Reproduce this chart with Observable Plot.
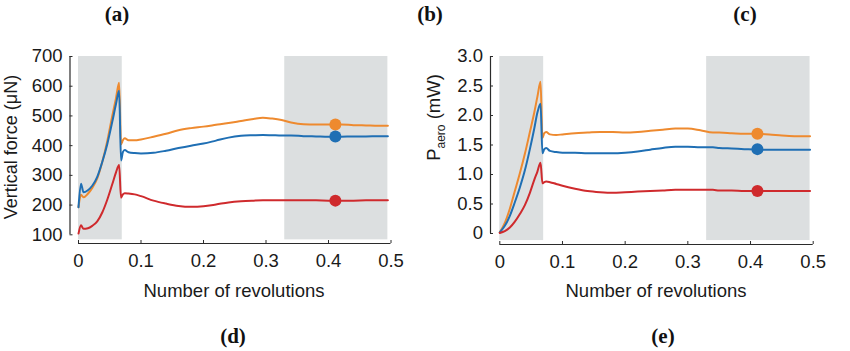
<!DOCTYPE html>
<html>
<head>
<meta charset="utf-8">
<script src="https://cdn.jsdelivr.net/npm/d3@7"></script>
<script src="https://cdn.jsdelivr.net/npm/@observablehq/plot@0.6"></script>
<style>
  html, body { margin: 0; padding: 0; background: #fff; }
  #wrap { position: relative; width: 850px; height: 351px; overflow: hidden; background: #fff; }
  .panel { position: absolute; top: 0; }
  .tag { position: absolute; font-family: "Liberation Serif", "DejaVu Serif", serif; font-weight: bold; font-size: 21px; color: #111; transform: translate(-50%, -50%); white-space: nowrap; }
</style>
</head>
<body>
<div id="wrap"></div>
<script>
// ---------- data ----------
const seriesNames = ["orange", "blue", "red"];
const seriesColors = ["#ee8a2f", "#1f6fb4", "#cf2a2d"];

const revTicks = [0, 0.1, 0.2, 0.3, 0.4, 0.5];
const forceTicks = [100, 200, 300, 400, 500, 600, 700];
const powerTicks = [0, 0.5, 1.0, 1.5, 2.0, 2.5, 3.0];

const shadeStart = [0, 0.33];
const shadeEnd = [0.07, 0.495];

// Panel (d): vertical force (µN)
const forceX = [0, 0.004, 0.008, 0.015, 0.022, 0.03, 0.038, 0.046, 0.054, 0.06, 0.065, 0.068, 0.071, 0.074, 0.08, 0.09, 0.1, 0.12, 0.14, 0.16, 0.18, 0.2, 0.22, 0.24, 0.26, 0.28, 0.295, 0.31, 0.325, 0.34, 0.36, 0.38, 0.4, 0.42, 0.44, 0.46, 0.48, 0.495];
const forceOrange = [193, 235, 226, 238, 258, 290, 345, 415, 500, 560, 612, 405, 418, 425, 418, 418, 421, 430, 440, 452, 459, 464, 470, 476, 483, 490, 494, 491, 486, 478, 472, 471, 471, 471, 469, 468, 467, 467];
const forceBlue = [193, 272, 243, 250, 265, 295, 345, 405, 480, 540, 585, 350, 378, 385, 378, 375, 374, 376, 383, 392, 400, 407, 417, 427, 433, 435, 436, 435, 434, 434, 432, 431, 430, 430, 431, 431, 432, 432];
const forceRed = [104, 132, 120, 122, 130, 145, 175, 218, 270, 310, 335, 225, 236, 240, 239, 236, 230, 215, 205, 197, 194, 196, 202, 209, 213, 215, 216, 216, 216, 216, 216, 216, 215, 215, 215, 216, 216, 216];

// Panel (e): aerodynamic power (mW)
const powerX = [0, 0.008, 0.016, 0.024, 0.032, 0.04, 0.048, 0.055, 0.06, 0.065, 0.068, 0.071, 0.074, 0.08, 0.09, 0.1, 0.12, 0.14, 0.16, 0.18, 0.2, 0.22, 0.24, 0.26, 0.28, 0.3, 0.32, 0.34, 0.35, 0.37, 0.39, 0.41, 0.43, 0.45, 0.47, 0.495];
const powerOrange = [0.02, 0.18, 0.42, 0.72, 1.02, 1.35, 1.72, 2.05, 2.32, 2.57, 1.62, 1.70, 1.72, 1.68, 1.67, 1.68, 1.70, 1.71, 1.72, 1.72, 1.71, 1.72, 1.74, 1.76, 1.78, 1.78, 1.75, 1.71, 1.71, 1.70, 1.69, 1.69, 1.68, 1.66, 1.65, 1.65];
const powerBlue = [0.02, 0.13, 0.3, 0.53, 0.78, 1.07, 1.43, 1.78, 2.05, 2.2, 1.36, 1.43, 1.45, 1.40, 1.38, 1.37, 1.37, 1.36, 1.36, 1.36, 1.37, 1.39, 1.42, 1.45, 1.47, 1.47, 1.46, 1.46, 1.45, 1.44, 1.43, 1.42, 1.42, 1.42, 1.42, 1.42];
const powerRed = [0.01, 0.04, 0.1, 0.2, 0.33, 0.48, 0.69, 0.91, 1.05, 1.2, 0.85, 0.87, 0.88, 0.87, 0.84, 0.81, 0.76, 0.72, 0.70, 0.69, 0.70, 0.71, 0.72, 0.73, 0.74, 0.74, 0.74, 0.74, 0.73, 0.73, 0.72, 0.72, 0.72, 0.72, 0.72, 0.72];

// Markers at the sampling position
const markerX = 0.411;
const forceMarkers = [471, 431, 215];
const powerMarkers = [1.69, 1.43, 0.72];

// ---------- helpers ----------
function toRows(xs, ys) {
  const rows = [];
  ys.forEach((arr, s) => arr.forEach((v, i) => rows.push({x: xs[i], y: v, series: seriesNames[s], color: seriesColors[s]})));
  return rows;
}
const shades = shadeStart.map((s, i) => ({start: s, end: shadeEnd[i]}));
const axisColor = "#2b2b2b";
const fontFam = "'Liberation Sans', Arial, Helvetica, sans-serif";

function panel({width, height, marginLeft, marginRight, marginTop, marginBottom, yDomain, yTicks, yFmt, shadeBottom, rows, markers, yAxisDx, xAxisDy}) {
  return Plot.plot({
    width, height, marginLeft, marginRight, marginTop, marginBottom,
    x: {domain: [0, 0.5]},
    y: {domain: yDomain},
    color: {type: "identity"},
    style: {fontFamily: fontFam, fontSize: "18.5px", color: "#1a1a1a", background: "transparent", overflow: "visible"},
    marks: [
      Plot.rect(shades, {x1: "start", x2: "end", y1: shadeBottom, y2: yDomain[1], fill: "#dcdfe0"}),
      Plot.ruleX([0], {y1: yDomain[0], y2: yDomain[1], dx: yAxisDx, stroke: axisColor, strokeWidth: 1.2}),
      Plot.ruleY([yDomain[0]], {x1: 0, x2: 0.5, dy: xAxisDy, stroke: axisColor, strokeWidth: 1.2}),
      Plot.axisY({ticks: yTicks, tickFormat: yFmt, tickSize: 3, dx: yAxisDx + 3, tickPadding: 7.5, label: null, stroke: axisColor}),
      Plot.axisX({ticks: revTicks, tickFormat: d => d === 0 ? "0" : d.toFixed(1), tickSize: 3, dy: xAxisDy - 3, tickPadding: 10, label: null, stroke: axisColor}),
      Plot.line(rows, {x: "x", y: "y", z: "series", stroke: "color", strokeWidth: 2, curve: "monotone-x"}),
      Plot.dot(markers.map((v, i) => ({x: markerX, y: v, color: seriesColors[i]})), {x: "x", y: "y", fill: "color", r: 6})
    ]
  });
}

const wrap = document.getElementById("wrap");

// Left panel (d)
const left = panel({
  width: 420, height: 310, marginLeft: 78, marginRight: 29.5, marginTop: 56, marginBottom: 75.7,
  yDomain: [100, 700], yTicks: forceTicks, yFmt: d => String(d), shadeBottom: 83,
  rows: toRows(forceX, [forceOrange, forceBlue, forceRed]), markers: forceMarkers,
  yAxisDx: -8.5, xAxisDy: 8.7
});
left.classList.add("panel");
left.style.left = "0px";
wrap.appendChild(left);
const ls = d3.select(left);
ls.append("text").attr("x", 234).attr("y", 297).attr("text-anchor", "middle")
  .attr("font-family", fontFam).attr("font-size", 18.5).attr("fill", "#1a1a1a").text("Number of revolutions");
ls.append("text").attr("transform", "translate(17,147) rotate(-90)").attr("text-anchor", "middle")
  .attr("font-family", fontFam).attr("font-size", 18).attr("fill", "#1a1a1a").text("Vertical force (μN)");

// Right panel (e)
const right = panel({
  width: 430, height: 310, marginLeft: 79.3, marginRight: 37.3, marginTop: 56, marginBottom: 77,
  yDomain: [0, 3.0], yTicks: powerTicks, yFmt: d => d === 0 ? "0" : d.toFixed(1), shadeBottom: -0.12,
  rows: toRows(powerX, [powerOrange, powerBlue, powerRed]), markers: powerMarkers,
  yAxisDx: -9.3, xAxisDy: 11
});
right.classList.add("panel");
right.style.left = "420px";
wrap.appendChild(right);
const rs = d3.select(right);
rs.append("text").attr("x", 236).attr("y", 297).attr("text-anchor", "middle")
  .attr("font-family", fontFam).attr("font-size", 18.5).attr("fill", "#1a1a1a").text("Number of revolutions");
const yt = rs.append("text").attr("transform", "translate(20,117.5) rotate(-90)").attr("text-anchor", "middle")
  .attr("font-family", fontFam).attr("font-size", 18.5).attr("fill", "#1a1a1a");
yt.append("tspan").text("P");
yt.append("tspan").attr("font-size", 12).attr("dy", 5).text("aero");
yt.append("tspan").attr("dy", -5).text(" (mW)");

// Panel tags
const tags = [["(a)", 117, 14], ["(b)", 430, 14], ["(c)", 745, 14], ["(d)", 233, 336], ["(e)", 663, 336]];
tags.forEach(([t, x, y]) => {
  const d = document.createElement("div");
  d.className = "tag";
  d.textContent = t;
  d.style.left = x + "px";
  d.style.top = y + "px";
  wrap.appendChild(d);
});
</script>
</body>
</html>
